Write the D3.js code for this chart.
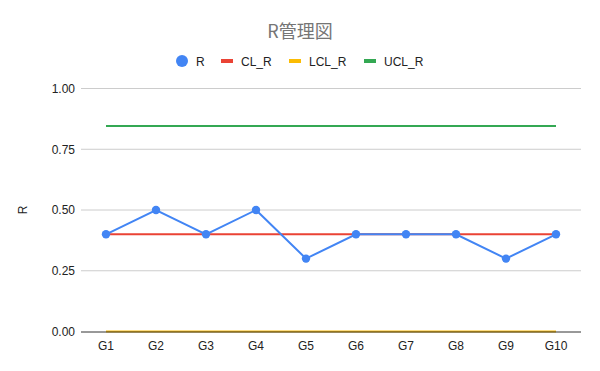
<!DOCTYPE html>
<html>
<head>
<meta charset="utf-8">
<script src="https://cdn.jsdelivr.net/npm/d3@7"></script>
<style>
  body { margin: 0; background: #fff; }
  text { font-family: "Liberation Sans", Arial, sans-serif; }
</style>
</head>
<body>
<svg id="chart" width="600" height="371"></svg>
<script>
// data
var groups = ["G1", "G2", "G3", "G4", "G5", "G6", "G7", "G8", "G9", "G10"]
var rValues = [0.4, 0.5, 0.4, 0.5, 0.3, 0.4, 0.4, 0.4, 0.3, 0.4]
var clValues = [0.4, 0.4, 0.4, 0.4, 0.4, 0.4, 0.4, 0.4, 0.4, 0.4]
var lclValues = [0, 0, 0, 0, 0, 0, 0, 0, 0, 0]
var uclValues = [0.846, 0.846, 0.846, 0.846, 0.846, 0.846, 0.846, 0.846, 0.846, 0.846]
var yTicks = [0, 0.25, 0.5, 0.75, 1]

var svg = d3.select("#chart")
var plotLeft = 81, plotRight = 581, plotTop = 88.5, plotBottom = 331.5

var x = d3.scaleBand().domain(groups).range([plotLeft, plotRight])
var y = d3.scaleLinear().domain([0, 1]).range([plotBottom, plotTop])
var cx = function(d, i){ return x(groups[i]) + x.bandwidth() / 2 }

// title
svg.append("text")
    .attr("x", 300).attr("y", 38)
    .attr("text-anchor", "middle")
    .attr("font-size", 18)
    .attr("fill", "#757575")
    .style("font-family", "'Noto Sans CJK JP', sans-serif")
    .text("R管理図")

// legend
var legend = [
    {name: "R", color: "#4285f4", dot: true, x: 176},
    {name: "CL_R", color: "#ea4335", x: 221},
    {name: "LCL_R", color: "#fbbc04", x: 289},
    {name: "UCL_R", color: "#34a853", x: 364}
]
legend.forEach(function(l)
{
    if(l.dot)
    {
        svg.append("circle").attr("cx", l.x + 6).attr("cy", 61).attr("r", 6).attr("fill", l.color)
    }
    else
    {
        svg.append("rect").attr("x", l.x).attr("y", 59).attr("width", 12).attr("height", 4).attr("fill", l.color)
    }
    svg.append("text")
        .attr("x", l.x + 20).attr("y", 65.5)
        .attr("font-size", 12).attr("fill", "#222")
        .text(l.name)
})

// grid
svg.append("g").selectAll("line")
    .data(yTicks.filter(function(t){ return t > 0 }))
    .enter().append("line")
        .attr("x1", plotLeft).attr("x2", plotRight)
        .attr("y1", function(d){ return y(d) }).attr("y2", function(d){ return y(d) })
        .attr("stroke", "#cccccc").attr("stroke-width", 1)

// y axis labels
var yAxis = d3.axisLeft(y).tickValues(yTicks).tickFormat(d3.format(".2f")).tickSize(0).tickPadding(6)
var gy = svg.append("g").attr("transform", "translate(" + plotLeft + ",0)").call(yAxis)
gy.select(".domain").remove()
gy.selectAll("text").attr("font-size", 12).attr("fill", "#222").style("font-family", "'Liberation Sans', Arial, sans-serif")

// x axis labels
var xAxis = d3.axisBottom(x).tickSize(0).tickPadding(10)
var gx = svg.append("g").attr("transform", "translate(0," + plotBottom + ")").call(xAxis)
gx.select(".domain").remove()
gx.selectAll("text").attr("font-size", 12).attr("fill", "#222").style("font-family", "'Liberation Sans', Arial, sans-serif")

// y title
svg.append("text")
    .attr("transform", "translate(27," + ((plotTop + plotBottom) / 2) + ") rotate(-90)")
    .attr("text-anchor", "middle")
    .attr("font-size", 12).attr("fill", "#222")
    .text("R")

var line = d3.line().x(cx).y(function(d){ return y(d) })

function drawLine(values, color, width)
{
    svg.append("path")
        .datum(values)
        .attr("d", line)
        .attr("fill", "none")
        .attr("stroke", color)
        .attr("stroke-width", width)
}

drawLine(uclValues, "#34a853", 2)
drawLine(lclValues, "#fbbc04", 2)

// baseline sits over the LCL line
svg.append("line")
    .attr("x1", plotLeft).attr("x2", plotRight)
    .attr("y1", y(0) + 0.5).attr("y2", y(0) + 0.5)
    .attr("stroke", "#333").attr("stroke-width", 1)

drawLine(clValues, "#ea4335", 2)
drawLine(rValues, "#4285f4", 2)

svg.append("g").selectAll("circle")
    .data(rValues)
    .enter().append("circle")
        .attr("cx", cx)
        .attr("cy", function(d){ return y(d) })
        .attr("r", 4.2)
        .attr("fill", "#4285f4")
</script>
</body>
</html>
